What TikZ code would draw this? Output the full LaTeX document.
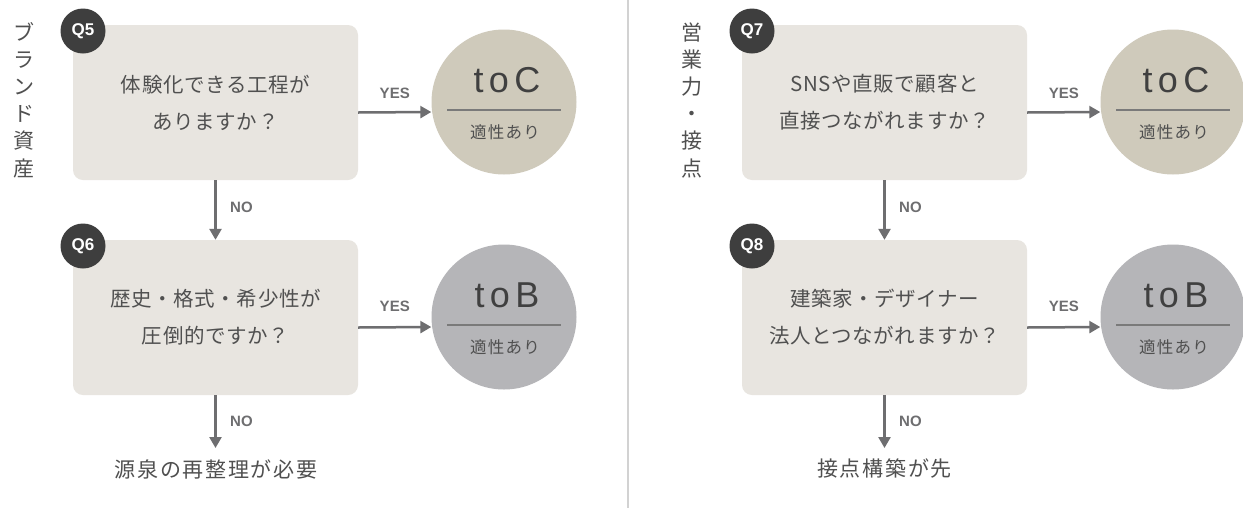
\documentclass[tikz,border=0pt]{standalone}
\usepackage{fontspec}
\setmainfont{Noto Sans CJK JP}
\newfontfamily\qfont[LetterSpace=3]{Noto Sans CJK JP}
\newfontfamily\efont[LetterSpace=8]{Noto Sans CJK JP}
\newfontfamily\sfont[LetterSpace=8]{Noto Sans CJK JP}
\newfontfamily\labf{Liberation Sans}
\newfontfamily\bigf[LetterSpace=15]{Liberation Sans}
\usetikzlibrary{arrows.meta}
\definecolor{boxfill}{HTML}{E8E5E0}
\definecolor{tocc}{HTML}{CFCABB}
\definecolor{tobc}{HTML}{B5B5B8}
\definecolor{badgec}{HTML}{3E3E3E}
\definecolor{arrc}{HTML}{6E6E70}
\definecolor{txtc}{HTML}{505050}
\definecolor{titc}{HTML}{404040}
\definecolor{sepc}{HTML}{7A7A7A}
\definecolor{divc}{HTML}{D2D2D2}
\begin{document}
\begin{tikzpicture}[x=1pt,y=-1pt,
  qbox/.style={rectangle, rounded corners=10pt, fill=boxfill, minimum width=285pt, minimum height=155pt, inner sep=0pt, align=center, text=txtc, font=\qfont\fontsize{20.5}{37}\selectfont},
  badge/.style={circle, fill=badgec, minimum size=45pt, inner sep=0pt, text=white, font=\labf\bfseries\fontsize{17}{17}\selectfont},
  res/.style={circle, minimum size=145pt, inner sep=0pt},
  restitle/.style={text=titc, font=\bigf\fontsize{36}{36}\selectfont, inner sep=0pt},
  ressub/.style={text=txtc, font=\sfont\fontsize{16.5}{16.5}\selectfont, inner sep=0pt},
  sepline/.style={draw=sepc, line width=1.5pt},
  arr/.style={draw=arrc, line width=2.5pt, -{Triangle[length=11pt,width=12pt]}},
  lbl/.style={text=arrc, font=\labf\bfseries\fontsize{15}{15}\selectfont, inner sep=0pt},
  endtxt/.style={text=txtc, font=\efont\fontsize{21}{21}\selectfont, inner sep=0pt},
  vlabel/.style={text=txtc, align=center, font=\fontsize{21}{27.2}\selectfont, inner sep=0pt}
]
\useasboundingbox (0,0) rectangle (1243,515);
\fill[white] (0,0) rectangle (1243,515);

% divider
\draw[draw=divc, line width=1.5pt] (628,0) -- (628,508);

% ===== left panel =====
\node[vlabel] (vl1) at (24,100) {ブ\\ラ\\ン\\ド\\資\\産};

\node[qbox] (q5) at (215.5,102.5) {体験化できる工程が\\ありますか？};
\node[badge] (b5) at (83,31) {Q5};
\node[qbox] (q6) at (215.5,317.5) {歴史・格式・希少性が\\圧倒的ですか？};
\node[badge] (b6) at (83,246) {Q6};

\node[res, fill=tocc] (c1) at (504,102) {};
\node[restitle] (c1t) at (507,80) {toC};
\draw[sepline] ([shift={(-57,8)}]c1.center) -- ([shift={(57,8)}]c1.center);
\node[ressub] (c1s) at (505,132) {適性あり};

\node[res, fill=tobc] (c2) at (504,317) {};
\node[restitle] (c2t) at (507,295) {toB};
\draw[sepline] ([shift={(-57,8)}]c2.center) -- ([shift={(57,8)}]c2.center);
\node[ressub] (c2s) at (505,347) {適性あり};

\draw[arr] ([yshift=-10pt]q5.east) -- node[lbl, midway, yshift=19pt]{YES} ([yshift=-10pt]c1.west);
\draw[arr] ([yshift=-10pt]q6.east) -- node[lbl, midway, yshift=21pt]{YES} ([yshift=-10pt]c2.west);

\draw[arr] (q5.south) -- (q6.north);
\node[lbl, anchor=west] (n1) at (230,207) {NO};

\coordinate (e1) at (215.5,448);
\draw[arr] (q6.south) -- (e1);
\node[lbl, anchor=west] (n2) at (230,421) {NO};
\node[endtxt] (end1) at (216,469) {源泉の再整理が必要};

% ===== right panel =====
\node[vlabel] (vl2) at (692,100) {営\\業\\力\\・\\接\\点};

\node[qbox] (q7) at (884.5,102.5) {SNSや直販で顧客と\\直接つながれますか？};
\node[badge] (b7) at (752,31) {Q7};
\node[qbox] (q8) at (884.5,317.5) {建築家・デザイナー\\法人とつながれますか？};
\node[badge] (b8) at (752,246) {Q8};

\node[res, fill=tocc] (c3) at (1173,102) {};
\node[restitle] (c3t) at (1176,80) {toC};
\draw[sepline] ([shift={(-57,8)}]c3.center) -- ([shift={(57,8)}]c3.center);
\node[ressub] (c3s) at (1174,132) {適性あり};

\node[res, fill=tobc] (c4) at (1173,317) {};
\node[restitle] (c4t) at (1176,295) {toB};
\draw[sepline] ([shift={(-57,8)}]c4.center) -- ([shift={(57,8)}]c4.center);
\node[ressub] (c4s) at (1174,347) {適性あり};

\draw[arr] ([yshift=-10pt]q7.east) -- node[lbl, midway, yshift=19pt]{YES} ([yshift=-10pt]c3.west);
\draw[arr] ([yshift=-10pt]q8.east) -- node[lbl, midway, yshift=21pt]{YES} ([yshift=-10pt]c4.west);

\draw[arr] (q7.south) -- (q8.north);
\node[lbl, anchor=west] (n3) at (899,207) {NO};

\coordinate (e2) at (884.5,448);
\draw[arr] (q8.south) -- (e2);
\node[lbl, anchor=west] (n4) at (899,421) {NO};
\node[endtxt] (end2) at (884.5,469) {接点構築が先};
\end{tikzpicture}
\end{document}
